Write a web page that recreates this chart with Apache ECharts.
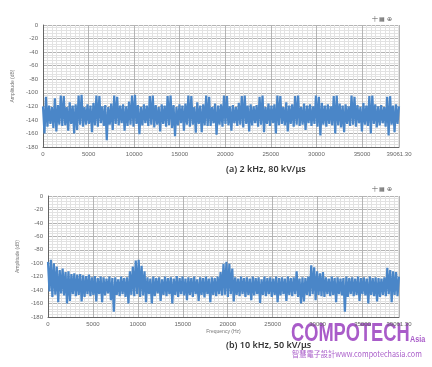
<!DOCTYPE html>
<html>
<head>
<meta charset="utf-8">
<script src="https://cdn.jsdelivr.net/npm/echarts@6/dist/echarts.min.js"></script>
<style>html,body{margin:0;padding:0;background:#fff}#c{width:432px;height:367px}</style>
</head>
<body>
<div id="c"></div>
<script>
// Frequency axis (Hz)
const freqMax = 39061.30;
const freqTicks = [0, 5000, 10000, 15000, 20000, 25000, 30000, 35000];
const ampTicks = [0, -20, -40, -60, -80, -100, -120, -140, -160, -180];
const titleA = '(a) 2 kHz, 80 kV/\u03bcs';
const titleB = '(b) 10 kHz, 50 kV/\u03bcs';

// (a) 2 kHz, 80 kV/us - amplitude (dB), evenly spaced bins 0..39061.3 Hz
const ampA = [
-120,-160,-106,-150,-119,-146,-121,-152,-108,-157,
-118,-147,-104,-149,-105,-148,-121,-156,-114,-146,
-119,-160,-117,-155,-104,-147,-103,-150,-121,-147,
-117,-146,-119,-158,-115,-148,-104,-150,-105,-145,
-120,-149,-118,-170,-121,-147,-116,-155,-104,-146,
-106,-148,-119,-145,-117,-156,-120,-149,-113,-147,
-104,-150,-103,-146,-118,-161,-121,-148,-117,-145,
-119,-149,-105,-147,-104,-151,-118,-147,-121,-157,
-117,-146,-119,-150,-105,-148,-104,-152,-118,-164,
-121,-148,-117,-145,-119,-156,-116,-147,-104,-150,
-105,-147,-121,-159,-114,-146,-119,-158,-117,-148,
-104,-149,-106,-149,-121,-145,-116,-162,-119,-147,
-117,-150,-104,-146,-105,-148,-120,-156,-118,-145,
-121,-149,-115,-147,-105,-151,-104,-146,-119,-157,
-117,-148,-120,-145,-118,-150,-106,-147,-104,-158,
-121,-146,-116,-149,-119,-145,-117,-160,-104,-148,
-105,-146,-121,-148,-114,-157,-119,-146,-117,-150,
-105,-147,-104,-149,-121,-147,-116,-155,-119,-145,
-117,-149,-120,-146,-104,-150,-106,-163,-115,-147,
-119,-150,-117,-146,-120,-148,-105,-160,-104,-148,
-116,-151,-119,-158,-117,-146,-120,-149,-104,-147,
-106,-150,-118,-145,-121,-157,-115,-147,-119,-149,
-105,-160,-104,-146,-117,-151,-120,-148,-118,-145,
-121,-150,-106,-163,-105,-147,-119,-158,-117,-146,
-120
];

// (b) 10 kHz, 50 kV/us - amplitude (dB)
const ampB = [
-98,-142,-95,-150,-100,-147,-105,-158,-110,-145,
-108,-148,-113,-160,-112,-156,-116,-146,-115,-149,
-117,-147,-116,-157,-118,-150,-119,-146,-117,-149,
-121,-147,-119,-157,-122,-146,-120,-158,-121,-148,
-123,-145,-120,-155,-122,-172,-121,-147,-124,-149,
-120,-146,-122,-150,-121,-160,-112,-147,-105,-149,
-96,-146,-95,-150,-104,-148,-112,-158,-121,-146,
-123,-160,-120,-149,-122,-145,-121,-156,-124,-147,
-120,-149,-122,-146,-121,-160,-123,-147,-119,-150,
-122,-146,-120,-148,-123,-155,-121,-147,-122,-150,
-120,-146,-124,-156,-121,-147,-122,-151,-120,-146,
-123,-158,-121,-147,-122,-149,-120,-146,-113,-148,
-101,-147,-98,-150,-101,-146,-108,-157,-121,-147,
-123,-149,-120,-146,-122,-150,-121,-147,-123,-155,
-120,-148,-122,-146,-121,-159,-124,-147,-120,-149,
-122,-146,-121,-150,-123,-147,-120,-158,-122,-148,
-121,-146,-123,-156,-120,-147,-122,-149,-121,-146,
-112,-150,-123,-160,-121,-157,-122,-147,-120,-149,
-103,-146,-106,-155,-112,-147,-115,-149,-113,-150,
-121,-146,-123,-149,-120,-147,-122,-158,-121,-146,
-123,-148,-122,-172,-120,-150,-122,-146,-121,-149,
-123,-147,-120,-156,-122,-146,-121,-148,-123,-160,
-120,-147,-122,-149,-121,-157,-122,-150,-123,-147,
-121,-149,-107,-146,-110,-158,-112,-147,-113,-149,
-120
];

const binsA = ampA.map((_, i) => i);
const binsB = ampB.map((_, i) => i);

const lineColor = '#4a86c8';
const labelFont = 'Liberation Sans, DejaVu Sans, sans-serif';

function valueX(gridIndex) {
  return {
    type: 'value', gridIndex: gridIndex, min: 0, max: freqMax, interval: 5000,
    axisLine: { show: true, onZero: false, lineStyle: { color: '#666', width: 1 } },
    axisTick: { show: false },
    axisLabel: {
      fontSize: 6, color: '#666', margin: 4, fontFamily: labelFont,
      formatter: v => (Math.abs(v - freqMax) < 1 ? freqMax.toFixed(2) : (freqTicks.indexOf(v) >= 0 ? String(v) : ''))
    },
    splitLine: { show: true, lineStyle: { color: '#b4b4b4', width: 1 } },
    minorTick: { show: false, splitNumber: 10 },
    minorSplitLine: { show: true, lineStyle: { color: '#e2e2e2', width: 1 } }
  };
}
function catX(gridIndex, data) {
  return { type: 'category', gridIndex: gridIndex, data: data, boundaryGap: false, show: false,
           axisLine: { show: false }, splitLine: { show: false } };
}
function valueY(gridIndex, nameGap, labelMargin) {
  return {
    type: 'value', gridIndex: gridIndex, min: -180, max: 0, interval: 20,
    name: 'Amplitude (dB)', nameLocation: 'middle', nameGap: nameGap,
    nameTextStyle: { fontSize: 5, color: '#777', fontFamily: labelFont },
    axisLine: { show: true, onZero: false, lineStyle: { color: '#666', width: 1 } },
    axisTick: { show: false },
    axisLabel: { fontSize: 6, color: '#666', margin: labelMargin, fontFamily: labelFont,
                 formatter: v => (ampTicks.indexOf(v) >= 0 ? String(v) : '') },
    splitLine: { show: true, lineStyle: { color: '#b4b4b4', width: 1 } },
    minorTick: { show: false, splitNumber: 5 },
    minorSplitLine: { show: true, lineStyle: { color: '#e2e2e2', width: 1 } }
  };
}

const chart = echarts.init(document.getElementById('c'), null, { renderer: 'canvas' });
const x2 = valueX(1);
x2.name = 'Frequency (Hz)';
x2.nameLocation = 'middle';
x2.nameGap = 12;
x2.nameTextStyle = { fontSize: 5, color: '#777', fontFamily: labelFont };

const lineStyle = { color: lineColor, width: 2.2, join: 'bevel', cap: 'butt' };

chart.setOption({
  animation: false,
  backgroundColor: '#fff',
  grid: [
    { left: 43, top: 25, right: 33, height: 122 },
    { left: 48, top: 196, right: 33, height: 121 }
  ],
  xAxis: [ valueX(0), catX(0, binsA), x2, catX(1, binsB) ],
  yAxis: [ valueY(0, 20, 5), valueY(1, 18, 5) ],
  series: [
    { type: 'line', xAxisIndex: 1, yAxisIndex: 0, data: ampA, showSymbol: false, symbol: 'none',
      sampling: null, smooth: false, lineStyle: lineStyle, silent: true },
    { type: 'line', xAxisIndex: 3, yAxisIndex: 1, data: ampB, showSymbol: false, symbol: 'none',
      sampling: null, smooth: false, lineStyle: lineStyle, silent: true }
  ],
  graphic: [
    { type: 'text', left: 226, top: 165, style: { text: titleA, fontSize: 9, fontWeight: 600, fill: '#333', textAlign: 'center', fontFamily: 'Noto Sans, sans-serif' } },
    { type: 'text', left: 226, top: 341, style: { text: titleB, fontSize: 9, fontWeight: 600, fill: '#333', textAlign: 'center', fontFamily: 'Noto Sans, sans-serif' } },
    { type: 'text', right: 40, top: 16, style: { text: '\u5341 \u25a6 \u2295', fontSize: 6, fill: '#555' } },
    { type: 'text', right: 40, top: 186, style: { text: '\u5341 \u25a6 \u2295', fontSize: 6, fill: '#555' } },
    { type: 'text', x: 291, y: 322, scaleX: 0.73, style: { text: 'COMPOTECH', fontSize: 25, fontWeight: 'bold', fill: '#a95cc9', fontFamily: 'Liberation Sans, sans-serif' } },
    { type: 'text', x: 410, y: 335, scaleX: 0.8, style: { text: 'Asia', fontSize: 9, fontWeight: 'bold', fill: '#a95cc9', fontFamily: 'Liberation Sans, sans-serif' } },
    { type: 'text', x: 292, y: 350, scaleX: 0.9, style: { text: '\u667a\u6167\u96fb\u5b50\u8a2d\u8a08www.compotechasia.com', fontSize: 8, fill: '#a95cc9', fontFamily: 'Noto Sans CJK TC, Liberation Sans, sans-serif' } }
  ]
});
</script>
</body>
</html>
